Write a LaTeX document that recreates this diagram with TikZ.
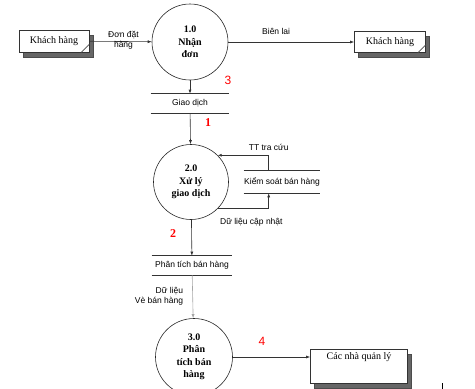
\documentclass[tikz,border=0pt]{standalone}
\usepackage{fontspec}
\setmainfont{Liberation Serif}
\newfontfamily\sansfont{Liberation Sans}
\usepackage{xcolor}
\usetikzlibrary{shadows,arrows.meta}

\begin{document}
\begin{tikzpicture}[x=1pt, y=-1pt, line width=0.6pt, >={Latex[length=4pt,width=3pt]},
      entity/.style={draw=black!80, fill=white, font=\fontsize{10}{12}\selectfont, inner sep=2pt,
        drop shadow={shadow xshift=4pt, shadow yshift=-5pt, fill=black!60, draw=black!70, opacity=1}},
      process/.style={circle, draw=black!85, fill=white, minimum size=76pt, inner sep=0pt, align=center,
        font=\bfseries\fontsize{10}{12.5}\selectfont},
      store/.style={minimum height=19pt, inner sep=0pt, font=\sansfont\fontsize{8.5}{10}\selectfont},
      storeline/.style={draw=black!80},
      flow/.style={->, draw=black!80},
      flowlabel/.style={font=\sansfont\fontsize{8.5}{10}\selectfont, align=center},
      numlabel/.style={text=red, font=\sansfont\fontsize{12}{13}\selectfont}]

      % Frame
      \path[use as bounding box] (0,0) rectangle (475,389);
      \clip (0,0) rectangle (475,389);

      % --- Entities ---
      \node[entity, minimum width=70pt, minimum height=22pt] (kh1) at (54,41) {Khách hàng};
      \node[entity, minimum width=71pt, minimum height=21pt] (kh2) at (390,42) {Khách hàng};
      \node[entity, minimum width=97pt, minimum height=34pt, text depth=19pt] (qly) at (359,366) {Các nhà quản lý};
      \draw[draw=black!70] ([xshift=-8pt]kh1.south east) -- ([yshift=8pt]kh1.south east);
      \draw[draw=black!70] ([xshift=-8pt]kh2.south east) -- ([yshift=8pt]kh2.south east);

      % --- Processes ---
      \node[process] (p1) at (190,42) {1.0\\Nhận\\đơn};
      \node[process, minimum size=75pt] (p2) at (191,182) {2.0\\Xử lý\\giao dịch};
      \node[process, minimum size=77pt] (p3) at (194,357) {3.0\\Phân\\tích bán\\hàng};

      % --- Data stores ---
      \node[store, minimum width=78pt] (gd) at (190,103.5) {Giao dịch};
      \node[store, minimum width=76pt, minimum height=22pt] (ks) at (282,182) {Kiểm soát bán hàng};
      \node[store, minimum width=80pt] (pt) at (192,265.5) {Phân tích bán hàng};
      \foreach \s in {gd,ks,pt}
        \draw[storeline] (\s.north west) -- (\s.north east) (\s.south west) -- (\s.south east);

      % --- Flows ---
      \draw[flow] (kh1) -- (p1) node[midway, flowlabel, xshift=3pt, yshift=1pt] {Đơn đặt\\hàng};
      \draw[flow] (p1) -- (kh2) node[pos=0.38, flowlabel, above=4pt] {Biên lai};
      \draw[flow] (p1) -- (gd);
      \draw[flow] (gd) -- (p2);
      \draw[flow] ([xshift=25pt]ks.north west) |- (p2.45) node[pos=0.5, flowlabel, above=1pt] {TT tra cứu};
      \draw[flow] (p2.-45) -| ([xshift=25pt]ks.south west) node[pos=0.33, flowlabel, below=6pt] {Dữ liệu cập nhật};
      \draw[flow] (p2) -- (pt);
      \draw[flow, draw=black!35] (pt) -- (p3) node[midway, flowlabel, anchor=east, xshift=-6pt, align=right] {Dữ liệu\\Vè bán hàng};
      \draw[flow] (p3) -- (p3 -| qly.west);

      % --- Numbers ---
      \node[numlabel] (n3) at (228,80) {3};
      \node[numlabel, font=\bfseries\fontsize{12}{13}\selectfont] (n1) at (208,123) {1};
      \node[numlabel, font=\bfseries\fontsize{12}{13}\selectfont] (n2) at (173,234) {2};
      \node[numlabel] (n4) at (262,341) {4};

      % cursor mark
      \draw[line width=0.8pt] (442,383) -- (442,389);

    \end{tikzpicture}
\end{document}
